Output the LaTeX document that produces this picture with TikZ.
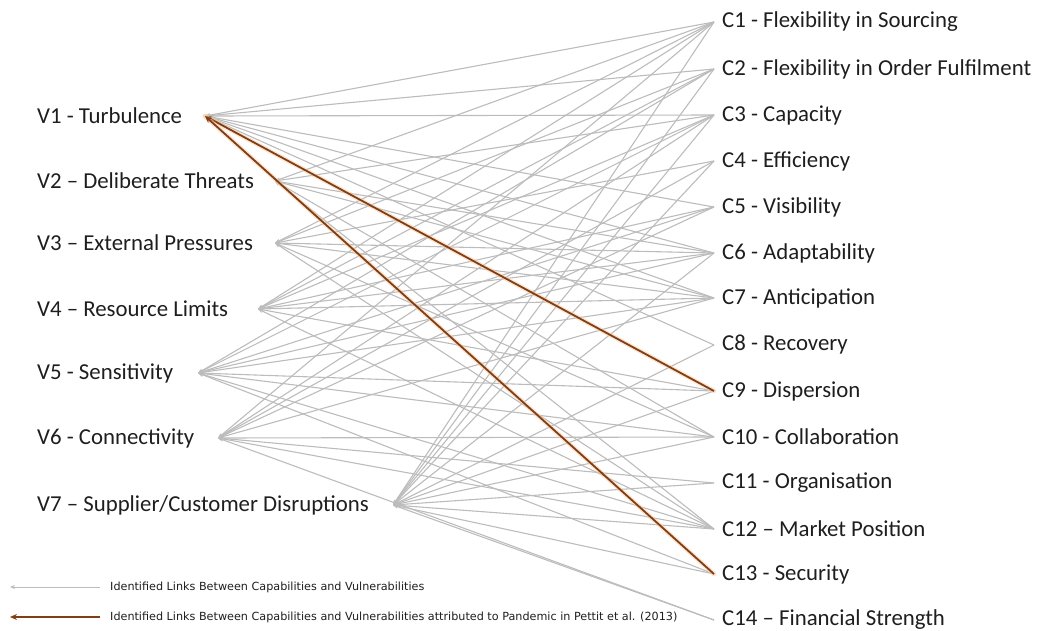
\documentclass[tikz,border=0pt]{standalone}
\usepackage{fontspec}
\setmainfont{Carlito}
\newfontfamily\legendfont{DejaVu Sans}
\usetikzlibrary{arrows.meta}
\definecolor{linkgray}{RGB}{188,188,188}
\definecolor{pandemic}{RGB}{128,62,20}
\definecolor{glow}{RGB}{250,205,170}
\definecolor{labtext}{RGB}{30,30,30}
\begin{document}
\begin{tikzpicture}[x=1pt,y=-1pt,
  lab/.style={anchor=west, inner sep=0pt, font=\fontsize{22.8}{24}\selectfont, text=labtext},
  link/.style={draw=linkgray, line width=1.1pt, -{Stealth[length=5pt,width=4pt]}},
  pand/.style={draw=pandemic, line width=1.8pt, -{Stealth[length=7pt,width=6pt]}},
  halo/.style={draw=glow, line width=4.5pt, opacity=0.55, line cap=round},
  legtext/.style={anchor=west, inner sep=0pt, font=\legendfont\fontsize{11.2}{12}\selectfont, text=labtext}]
\useasboundingbox (0,0) rectangle (1037,630);

% vulnerability labels and their link ends
\node[lab] (V1) at (37,116) {V1 - Turbulence};
\node[lab] (V2) at (37,181) {V2 -- Deliberate Threats};
\node[lab] (V3) at (37,243) {V3 -- External Pressures};
\node[lab] (V4) at (37,309) {V4 -- Resource Limits};
\node[lab] (V5) at (37,373) {V5 - Sensitivity};
\node[lab] (V6) at (37,438) {V6 - Connectivity};
\node[lab] (V7) at (37,505) {V7 -- Supplier/Customer Disruptions};
\coordinate (v1) at (205,116);
\coordinate (v2) at (275,181);
\coordinate (v3) at (275,243);
\coordinate (v4) at (258,309);
\coordinate (v5) at (198,373);
\coordinate (v6) at (218,438);
\coordinate (v7) at (393,505);

% capability labels and their link ends
\node[lab] (C1)  at (722,22)  {C1 - Flexibility in Sourcing};
\node[lab] (C2)  at (722,69)  {C2 - Flexibility in Order Fulfilment};
\node[lab] (C3)  at (722,115) {C3 - Capacity};
\node[lab] (C4)  at (722,161) {C4 - Efficiency};
\node[lab] (C5)  at (722,207) {C5 - Visibility};
\node[lab] (C6)  at (722,253) {C6 - Adaptability};
\node[lab] (C7)  at (722,298) {C7 - Anticipation};
\node[lab] (C8)  at (722,345) {C8 - Recovery};
\node[lab] (C9)  at (722,391) {C9 - Dispersion};
\node[lab] (C10) at (722,437) {C10 - Collaboration};
\node[lab] (C11) at (722,483) {C11 - Organisation};
\node[lab] (C12) at (722,529) {C12 -- Market Position};
\node[lab] (C13) at (722,574) {C13 - Security};
\node[lab] (C14) at (722,620) {C14 -- Financial Strength};
\foreach \i/\y in {1/22,2/69,3/115,4/161,5/207,6/253,7/298,8/345,9/391,10/437,11/483,12/529,13/574,14/620}
  \coordinate (c\i) at (714,\y);

% identified links (capability -> vulnerability)
\foreach \c in {1,2,3,5,6,7,8}        \draw[link] (c\c) -- (v1);
\foreach \c in {1,3,6,7,10,12}        \draw[link] (c\c) -- (v2);
\foreach \c in {1,2,4,6,7,10,12}      \draw[link] (c\c) -- (v3);
\foreach \c in {1,2,3,5,6,7,9,12}     \draw[link] (c\c) -- (v4);
\foreach \c in {2,3,5,6,7,9,10,12,13} \draw[link] (c\c) -- (v5);
\foreach \c in {1,3,4,5,7,10,11,12,14} \draw[link] (c\c) -- (v6);
\foreach \c in {1,2,3,4,6,8,9,10,11,12,13,14} \draw[link] (c\c) -- (v7);

% links attributed to the pandemic
\foreach \c in {9,13} {
  \draw[halo] (c\c) -- (v1);
  \draw[pand] (c\c) -- (v1);
}

% legend
\coordinate (g1a) at (100,587);
\coordinate (g1b) at (10,587);
\coordinate (g2a) at (100,617);
\coordinate (g2b) at (10,617);
\draw[link, line width=0.8pt] (g1a) -- (g1b);
\draw[pand, line width=1.5pt] (g2a) -- (g2b);
\node[legtext] (L1) at (110,587) {Identified Links Between Capabilities and Vulnerabilities};
\node[legtext] (L2) at (110,617) {Identified Links Between Capabilities and Vulnerabilities attributed to Pandemic in Pettit et al. (2013)};
\end{tikzpicture}
\end{document}
